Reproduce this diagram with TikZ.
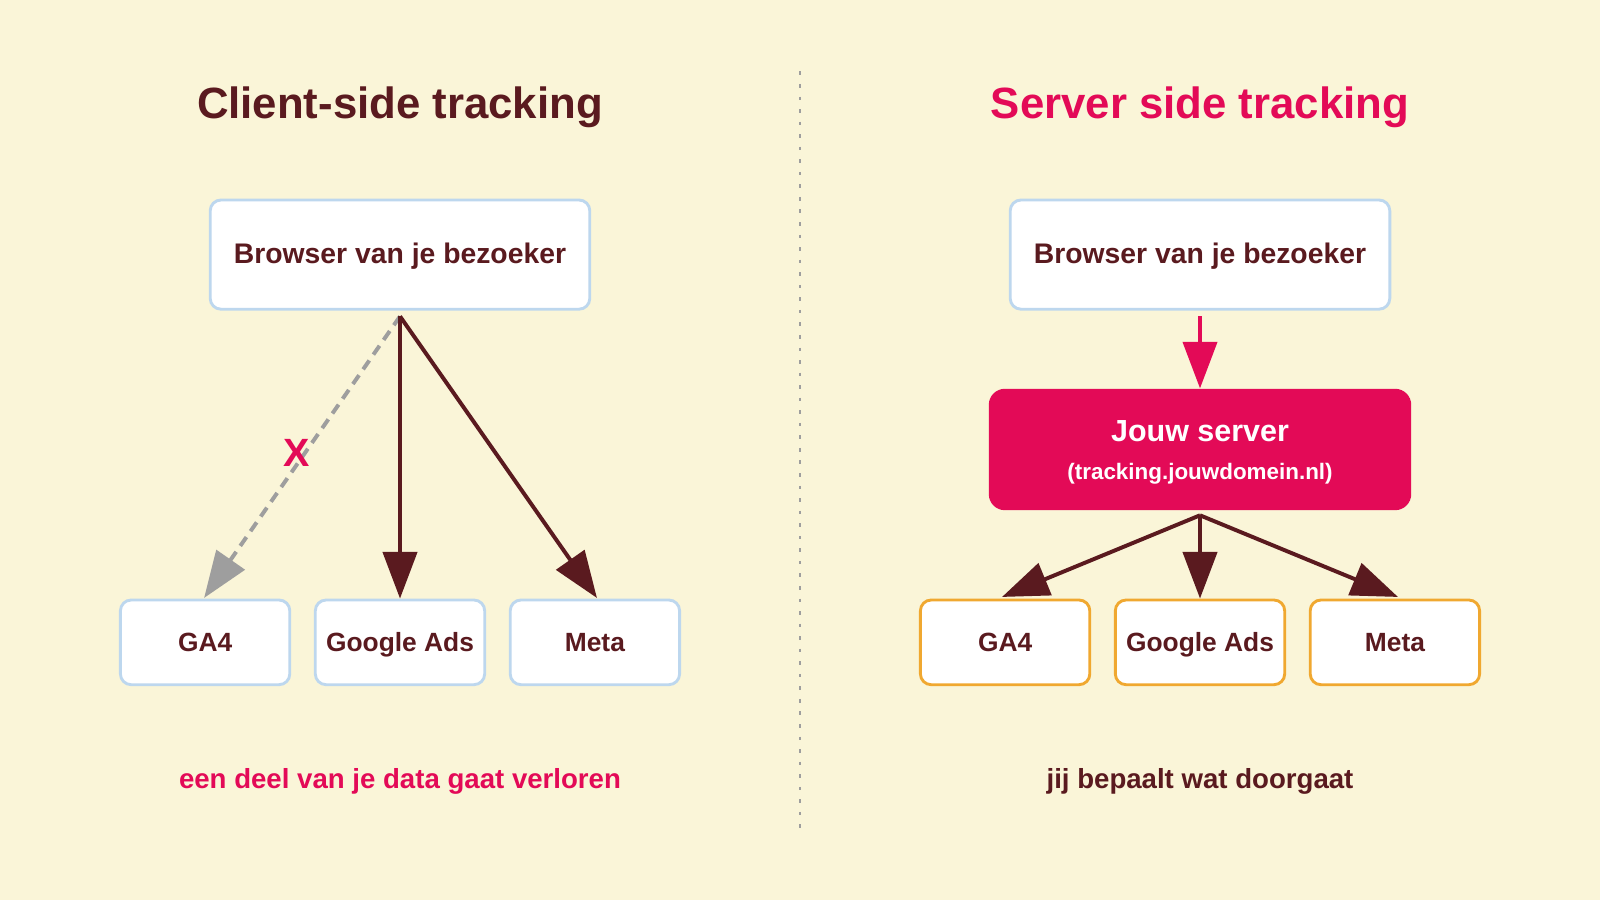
\documentclass[tikz,border=0pt]{standalone}
\usepackage{fontspec}
\setmainfont{Liberation Sans}
\usetikzlibrary{arrows.meta}
\definecolor{bg}{HTML}{FAF5D8}
\definecolor{dark}{HTML}{5A1A1F}
\definecolor{pink}{HTML}{E30A57}
\definecolor{lblue}{HTML}{BDD7EE}
\definecolor{orng}{HTML}{F0A830}
\definecolor{gry}{HTML}{9E9E9E}
\begin{document}
\begin{tikzpicture}[x=0.02cm,y=-0.02cm,
  box/.style={draw=lblue,line width=1.6pt,fill=white,rounded corners=6pt,font=\bfseries\fontsize{14.7}{18}\selectfont,text=dark,text height=11pt,text depth=1pt},
  bbox/.style={box,font=\bfseries\fontsize{15.8}{18}\selectfont},
  obox/.style={box,draw=orng},
  title/.style={font=\bfseries\fontsize{24.4}{30}\selectfont},
  arr/.style={draw=dark,line width=2.2pt,-{Triangle[length=26pt,width=19pt]}},
]
\fill[bg] (0,0) rectangle (1568,882);
\useasboundingbox (0,0) rectangle (1568,882);
\draw[gry,dash pattern=on 2pt off 5pt,line width=0.8pt] (784,70) -- (784,812);
\node[title,text=dark] (t1) at (392,105) {Client-side tracking};
\node[title,text=pink] (t2) at (1176,105) {Server side tracking};
% left
\node[bbox,minimum width=372*0.02cm,minimum height=107*0.02cm] (lb) at (392,249.5) {Browser van je bezoeker};
\node[box,minimum width=166*0.02cm,minimum height=83*0.02cm] (lg) at (201,629.5) {GA4};
\node[box,minimum width=166*0.02cm,minimum height=83*0.02cm] (la) at (392,629.5) {Google Ads};
\node[box,minimum width=166*0.02cm,minimum height=83*0.02cm] (lm) at (583,629.5) {Meta};
\coordinate (ls) at (392,310);
\draw[arr,draw=gry,dash pattern=on 6pt off 4pt,-{Triangle[length=26pt,width=19pt,fill=gry]}] (ls) -- (200,586);
\draw[arr] (ls) -- (la.north);
\draw[arr] (ls) -- (585,586);
\node[text=pink,font=\bfseries\fontsize{22}{26}\selectfont] (x) at (291,444) {X};
\node[text=pink,font=\bfseries\fontsize{15.4}{18}\selectfont] (c1) at (392,766) {een deel van je data gaat verloren};
% right
\node[bbox,minimum width=372*0.02cm,minimum height=107*0.02cm] (rb) at (1176,249.5) {Browser van je bezoeker};
\node[fill=pink,rounded corners=9pt,minimum width=414*0.02cm,minimum height=119*0.02cm,
  label={[text=white,align=center,yshift=-1.5pt]center:{\bfseries\fontsize{17}{20}\selectfont Jouw server}\\[9pt]{\bfseries\fontsize{12.5}{15}\selectfont (tracking.jouwdomein.nl)}}] (sv) at (1176,440.5) {};
\node[obox,minimum width=166*0.02cm,minimum height=83*0.02cm] (rg) at (985,629.5) {GA4};
\node[obox,minimum width=166*0.02cm,minimum height=83*0.02cm] (ra) at (1176,629.5) {Google Ads};
\node[obox,minimum width=166*0.02cm,minimum height=83*0.02cm] (rm) at (1367,629.5) {Meta};
\coordinate (rs) at (1176,310);
\draw[arr,draw=pink,-{Triangle[length=26pt,width=19pt]}] (rs) -- (sv.north);
\coordinate (ss) at (1176,505);
\draw[arr] (ss) -- (982,585);
\draw[arr] (ss) -- (ra.north);
\draw[arr] (ss) -- (1370,585);
\node[text=dark,font=\bfseries\fontsize{15.4}{18}\selectfont] (c2) at (1176,766) {jij bepaalt wat doorgaat};
\end{tikzpicture}
\end{document}
